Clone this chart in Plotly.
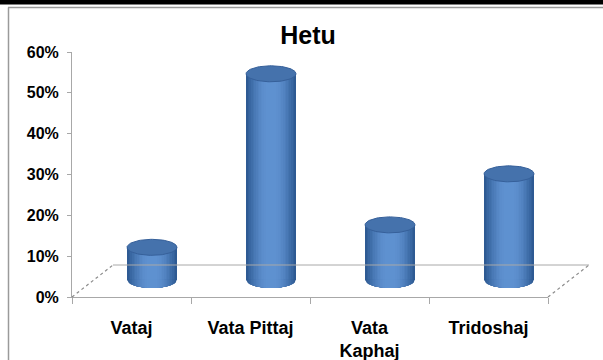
import numpy as np
import plotly.graph_objects as go

# ---- data -------------------------------------------------------------
categories = ["Vataj", "Vata Pittaj", "Vata Kaphaj", "Tridoshaj"]
tick_labels = ["Vataj", "Vata Pittaj", "Vata<br>Kaphaj", "Tridoshaj"]
values = [0.08, 0.505, 0.135, 0.26]
y_tick_values = [0.0, 0.1, 0.2, 0.3, 0.4, 0.5, 0.6]

# ---- geometry ---------------------------------------------------------
FIG_W, FIG_H = 603, 360
M_L, M_R, M_T, M_B = 72, 55, 52, 63
plot_w = FIG_W - M_L - M_R
plot_h = FIG_H - M_T - M_B
y_max = y_tick_values[-1]
n_cat = len(categories)
cat_px = plot_w / n_cat
val_px = plot_h / y_max

# oblique depth of the floor, in pixels
depth_dx, depth_dy = 41, 32
mid_dx, mid_dy = depth_dx / 2, depth_dy / 2 + 1

cyl_w = 50 / cat_px          # cylinder diameter in category units
ell_h = 8 / val_px           # half height of the projected end ellipses

x_pos = np.arange(n_cat)

dark = np.array([0x2E, 0x5A, 0x93])
light = np.array([0x5E, 0x91, 0xD0])
top_fill = "#4572AC"
top_line = "#36609A"
n_strips = 14


def mix(t):
    c = dark + (light - dark) * t
    return "rgb(%d,%d,%d)" % tuple(int(round(v)) for v in c)


fig = go.Figure()

# front value/category frame: carries the visible axes
fig.add_trace(go.Scatter(
    x=x_pos, y=values, mode="markers", marker=dict(opacity=0),
    xaxis="x", yaxis="y", hoverinfo="skip", showlegend=False,
))

strips = []
for k in range(n_strips):
    t = k / (n_strips - 1)
    w = cyl_w * (1 - 0.92 * k / n_strips)
    strips.append((w, mix(np.sin(t * np.pi / 2))))

# cylinder bodies: nested bars give the rounded shading
for w, col in strips:
    fig.add_trace(go.Bar(
        x=x_pos, y=values, width=w, marker=dict(color=col, line=dict(width=0)),
        xaxis="x2", yaxis="y2", hoverinfo="skip", showlegend=False,
    ))

# rounded bottoms of each shading strip
for w, col in strips:
    xs, ys = [], []
    for i in x_pos:
        u = np.linspace(-w / 2, w / 2, 40)
        yb = -ell_h * np.sqrt(np.clip(1 - (2 * u / cyl_w) ** 2, 0, None))
        xs += list(i + u) + [i + w / 2, i - w / 2, None]
        ys += list(yb) + [0.002, 0.002, None]
    fig.add_trace(go.Scatter(
        x=xs, y=ys, mode="lines", fill="toself", fillcolor=col,
        line=dict(width=0, color=col), xaxis="x2", yaxis="y2",
        hoverinfo="skip", showlegend=False,
    ))

# top faces
xs, ys = [], []
ang = np.linspace(0, 2 * np.pi, 90)
for i, v in zip(x_pos, values):
    xs += list(i + cyl_w / 2 * np.cos(ang)) + [None]
    ys += list(v + ell_h * np.sin(ang)) + [None]
fig.add_trace(go.Scatter(
    x=xs, y=ys, mode="lines", fill="toself", fillcolor=top_fill,
    line=dict(width=1, color=top_line), xaxis="x2", yaxis="y2",
    hoverinfo="skip", showlegend=False,
))


# ---- floor outline and frame (paper coordinates) ----------------------
def px_x(px):
    return (px - M_L) / plot_w


def px_y(py):
    return (FIG_H - M_B - py) / plot_h


grey = "#A8A8A8"
bx, by = depth_dx / plot_w, depth_dy / plot_h
shapes = [
    dict(type="line", xref="paper", yref="paper", x0=bx, y0=by, x1=1 + bx, y1=by,
         line=dict(color=grey, width=1)),
    dict(type="line", xref="paper", yref="paper", x0=0, y0=0, x1=bx, y1=by,
         line=dict(color="#8C8C8C", width=1.2, dash="dot")),
    dict(type="line", xref="paper", yref="paper", x0=1, y0=0, x1=1 + bx, y1=by,
         line=dict(color="#8C8C8C", width=1.2, dash="dot")),
    # outer frame
    dict(type="rect", xref="paper", yref="paper", x0=px_x(0), x1=px_x(FIG_W),
         y0=px_y(0), y1=px_y(4.5), fillcolor="black", line=dict(width=0)),
    dict(type="line", xref="paper", yref="paper", x0=px_x(8), x1=px_x(FIG_W),
         y0=px_y(7.5), y1=px_y(7.5), line=dict(color="#9A9A9A", width=1.5)),
    dict(type="line", xref="paper", yref="paper", x0=px_x(8.5), x1=px_x(8.5),
         y0=px_y(7.5), y1=px_y(FIG_H), line=dict(color="#9A9A9A", width=1.5)),
]

font_family = "Liberation Sans, Arial, sans-serif"
y_font = dict(family=font_family, size=16, color="black", weight="bold")
x_font = dict(family=font_family, size=18, color="black", weight="bold")

fig.update_layout(
    width=FIG_W, height=FIG_H,
    margin=dict(l=M_L, r=M_R, t=M_T, b=M_B, pad=0, autoexpand=False),
    paper_bgcolor="white", plot_bgcolor="rgba(0,0,0,0)",
    barmode="overlay", bargap=0,
    shapes=shapes,
    title=dict(text="Hetu", x=308 / FIG_W, xref="container", xanchor="center",
               y=1 - 35 / FIG_H, yref="container", yanchor="middle",
               font=dict(family=font_family, size=25, color="black", weight="bold")),
    xaxis=dict(range=[-0.5, n_cat - 0.5], tickvals=list(x_pos), ticktext=tick_labels,
               ticks="", showgrid=False, zeroline=False, showline=True,
               linecolor=grey, linewidth=1, tickfont=x_font, automargin=False,
               ticklabelstandoff=14,
               minor=dict(tickvals=[i - 0.5 for i in range(n_cat + 1)],
                          ticks="outside", ticklen=6, tickcolor=grey, tickwidth=1)),
    yaxis=dict(range=[0, y_max], tickvals=y_tick_values, tickformat=".0%",
               ticks="outside", ticklen=4, tickcolor=grey, showgrid=False,
               zeroline=False, showline=True, linecolor=grey, linewidth=1,
               tickfont=y_font, ticklabelstandoff=5, automargin=False),
    xaxis2=dict(overlaying="x", anchor="y",
                range=[-0.5 - mid_dx / cat_px, n_cat - 0.5 - mid_dx / cat_px],
                visible=False),
    yaxis2=dict(overlaying="y", anchor="x",
                range=[-mid_dy / val_px, y_max - mid_dy / val_px],
                visible=False),
)

fig.write_html("out.html")
